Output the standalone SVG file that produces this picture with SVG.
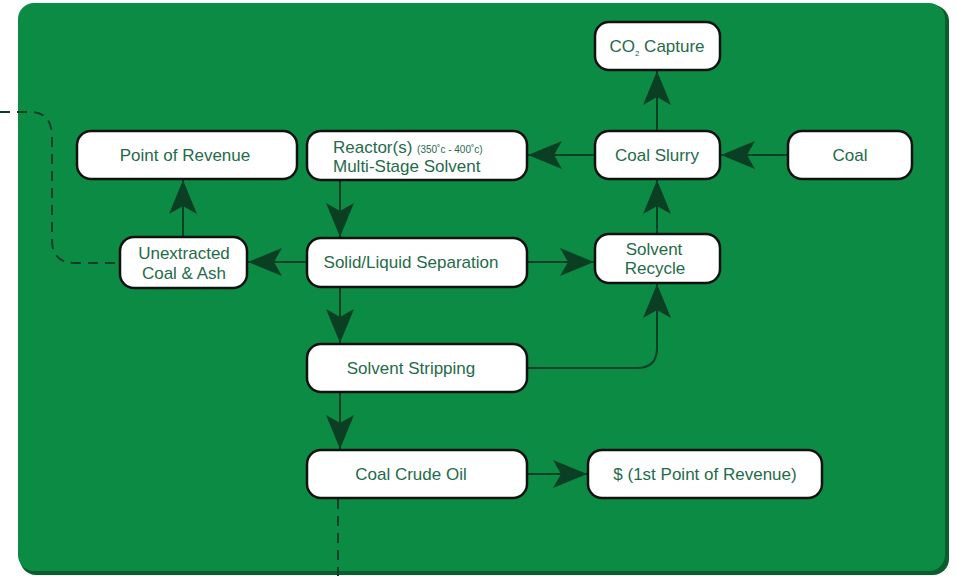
<svg xmlns="http://www.w3.org/2000/svg" width="956" height="576" viewBox="0 0 956 576">
<defs>
<style>
.node rect{fill:#fff;stroke:#111;stroke-width:2.5}
.node text{font-family:"Liberation Sans",Arial,sans-serif;font-size:17px;fill:#1f6b4a}
.c{text-anchor:middle}
.ln{fill:none;stroke:#0b3f24;stroke-width:2}
.dash{fill:none;stroke:#0b3f24;stroke-width:2;stroke-dasharray:10 7}
</style>
<marker id="ah" markerUnits="userSpaceOnUse" markerWidth="40" markerHeight="32" viewBox="-38 -16 40 32" refX="0" refY="0" orient="auto">
<path d="M0,0 L-34,-14 L-26,0 L-34,14 Z" fill="#0b3f24"/>
</marker>
</defs>
<rect x="20" y="5" width="929" height="570" rx="16" fill="#0a5e2e"/>
<rect x="18" y="3" width="927" height="568" rx="16" fill="#0c8b44"/>
<g id="connectors">
<path class="ln" d="M657,131 V71" marker-end="url(#ah)"/>
<path class="ln" d="M788,155 H721" marker-end="url(#ah)"/>
<path class="ln" d="M595,155 H528" marker-end="url(#ah)"/>
<path class="ln" d="M657,234 V180" marker-end="url(#ah)"/>
<path class="ln" d="M340,180 V237" marker-end="url(#ah)"/>
<path class="ln" d="M307,262 H248" marker-end="url(#ah)"/>
<path class="ln" d="M527,262 H594" marker-end="url(#ah)"/>
<path class="ln" d="M183,237 V180" marker-end="url(#ah)"/>
<path class="ln" d="M340,287 V343" marker-end="url(#ah)"/>
<path class="ln" d="M527,368 H637 Q657,368 657,348 V284" marker-end="url(#ah)"/>
<path class="ln" d="M340,392 V449" marker-end="url(#ah)"/>
<path class="ln" d="M527,474 H587" marker-end="url(#ah)"/>
<path class="dash" d="M0,112 H30 Q52,112 52,137 V240 Q52,263 75,263 H120"/>
<path class="dash" d="M338,499 V576"/>
</g>
<g id="co2" class="node"><rect x="595" y="22" width="125" height="48" rx="14"/><text x="657" y="52" class="c">CO<tspan font-size="8" dy="4">2</tspan><tspan dy="-4"> Capture</tspan></text></g>
<g id="point-revenue" class="node"><rect x="77" y="131" width="220" height="48" rx="14"/><text x="185" y="161" class="c">Point of Revenue</text></g>
<g id="reactor" class="node"><rect x="307" y="131" width="220" height="49" rx="14"/><text x="333" y="153">Reactor(s) <tspan font-size="10">(350˚c - 400˚c)</tspan></text><text x="333" y="172">Multi-Stage Solvent</text></g>
<g id="coal-slurry" class="node"><rect x="595" y="131" width="125" height="48" rx="14"/><text x="657" y="161" class="c">Coal Slurry</text></g>
<g id="coal" class="node"><rect x="788" y="131" width="124" height="48" rx="14"/><text x="850" y="161" class="c">Coal</text></g>
<g id="unextracted" class="node"><rect x="120" y="237" width="127" height="51" rx="14"/><text x="184" y="259" class="c">Unextracted</text><text x="184" y="279" class="c">Coal &amp; Ash</text></g>
<g id="separation" class="node"><rect x="307" y="238" width="220" height="49" rx="14"/><text x="411" y="268" class="c">Solid/Liquid Separation</text></g>
<g id="solvent-recycle" class="node"><rect x="595" y="234" width="125" height="49" rx="14"/><text x="654" y="255" class="c">Solvent</text><text x="655" y="274" class="c">Recycle</text></g>
<g id="stripping" class="node"><rect x="307" y="344" width="220" height="48" rx="14"/><text x="411" y="374" class="c">Solvent Stripping</text></g>
<g id="crude" class="node"><rect x="307" y="450" width="220" height="48" rx="14"/><text x="411" y="480" class="c">Coal Crude Oil</text></g>
<g id="revenue1" class="node"><rect x="588" y="450" width="234" height="48" rx="14"/><text x="705" y="480" class="c">$ (1st Point of Revenue)</text></g>
</svg>
